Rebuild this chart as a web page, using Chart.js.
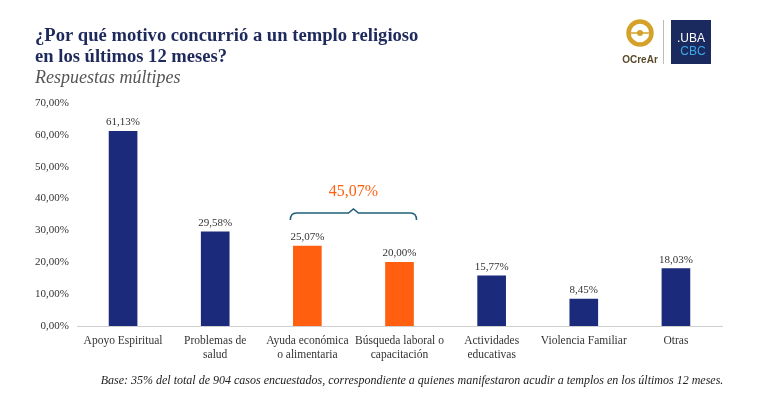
<!DOCTYPE html>
<html>
<head>
<meta charset="utf-8">
<script src="https://cdn.jsdelivr.net/npm/chart.js@4"></script>
<style>
  body { margin: 0; background: #fff; }
  #wrap { position: relative; width: 770px; height: 408px; }
</style>
</head>
<body>
<div id="wrap"><canvas id="chart"></canvas></div>
<script>
// data
const categories = [
  ["Apoyo Espiritual"],
  ["Problemas de", "salud"],
  ["Ayuda económica", "o alimentaria"],
  ["Búsqueda laboral o", "capacitación"],
  ["Actividades", "educativas"],
  ["Violencia Familiar"],
  ["Otras"]
];
const values = [61.13, 29.58, 25.07, 20.0, 15.77, 8.45, 18.03];
const highlighted = [false, false, true, true, false, false, false];
const groupLabel = "45,07%";
const yTicks = [0, 10, 20, 30, 40, 50, 60, 70];

const navy = "#1b2a7b";
const orange = "#ff5f0f";
const serif = "'Liberation Serif', 'DejaVu Serif', serif";

function fmt(v) {
  return v.toFixed(2).replace(".", ",") + "%";
}

// texts, bracket, logo
const extras = {
  id: "extras",
  afterDraw(chart) {
    const c = chart.ctx;
    const x = chart.scales.x, y = chart.scales.y;
    c.save();

    // title
    c.fillStyle = "#1f2a5c";
    c.font = "bold 18.6px " + serif;
    c.textBaseline = "alphabetic";
    c.textAlign = "left";
    c.fillText("¿Por qué motivo concurrió a un templo religioso", 35, 41);
    c.fillText("en los últimos 12 meses?", 35, 62);
    c.fillStyle = "#555";
    c.font = "italic 18px " + serif;
    c.fillText("Respuestas múltipes", 35, 83);

    // value labels
    c.fillStyle = "#333";
    c.font = "11px " + serif;
    c.textAlign = "center";
    values.forEach((v, i) => {
      c.fillText(fmt(v), x.getPixelForValue(i), y.getPixelForValue(v) - 6);
    });

    // bracket over highlighted bars
    const idx = highlighted.map((h, i) => h ? i : -1).filter(i => i >= 0);
    const x1 = x.getPixelForValue(idx[0]) - 17;
    const x2 = x.getPixelForValue(idx[idx.length - 1]) + 17;
    const by = 213;
    const mid = (x1 + x2) / 2;
    c.strokeStyle = "#1f5f7a";
    c.lineWidth = 1.5;
    c.beginPath();
    c.moveTo(x1, by + 7);
    c.quadraticCurveTo(x1, by, x1 + 6, by);
    c.lineTo(mid - 5, by);
    c.lineTo(mid, by - 4);
    c.lineTo(mid + 5, by);
    c.lineTo(x2 - 6, by);
    c.quadraticCurveTo(x2, by, x2, by + 7);
    c.stroke();
    c.fillStyle = orange;
    c.font = "16px " + serif;
    c.fillText(groupLabel, mid, 196);

    // footer
    c.fillStyle = "#222";
    c.font = "italic 12px " + serif;
    c.fillText("Base: 35% del total de 904 casos encuestados, correspondiente a quienes manifestaron acudir a templos en los últimos 12 meses.", 412, 384);

    // logo OCreAr
    c.strokeStyle = "#d4a22a";
    c.lineWidth = 4.5;
    c.beginPath();
    c.arc(640, 33, 11.5, 0, Math.PI * 2);
    c.stroke();
    c.lineWidth = 1.5;
    c.beginPath();
    c.moveTo(627, 33);
    c.lineTo(653, 33);
    c.stroke();
    c.fillStyle = "#d4a22a";
    c.beginPath();
    c.arc(640, 33, 3, 0, Math.PI * 2);
    c.fill();
    c.fillStyle = "#5a4a2a";
    c.font = "bold 10px 'Liberation Sans', sans-serif";
    c.fillText("OCreAr", 640, 63);
    c.strokeStyle = "#bbb";
    c.lineWidth = 1;
    c.beginPath();
    c.moveTo(663.5, 20);
    c.lineTo(663.5, 64);
    c.stroke();
    c.fillStyle = "#1a2a5e";
    c.fillRect(671, 20, 40, 44);
    c.fillStyle = "#fff";
    c.font = "12px 'Liberation Sans', sans-serif";
    c.fillText(".UBA", 691, 42);
    c.fillStyle = "#3da8e8";
    c.fillText("CBC", 693, 55);

    c.restore();
  }
};

new Chart(document.getElementById("chart"), {
  type: "bar",
  data: {
    labels: categories,
    datasets: [{
      data: values,
      backgroundColor: highlighted.map(h => h ? orange : navy),
      barThickness: 28
    }]
  },
  plugins: [extras],
  options: {
    responsive: true,
    maintainAspectRatio: false,
    animation: false,
    layout: { padding: { top: 103, right: 48, left: 0, bottom: 0 } },
    plugins: { legend: { display: false }, tooltip: { enabled: false } },
    scales: {
      y: {
        min: 0,
        max: 70,
        afterFit(scale) { scale.width = 77; },
        afterBuildTicks(scale) { scale.ticks = yTicks.map(v => ({ value: v })); },
        grid: { display: false, drawTicks: false },
        border: { display: false },
        ticks: {
          padding: 8,
          color: "#333",
          font: { family: serif, size: 11 },
          callback: v => fmt(v)
        }
      },
      x: {
        afterFit(scale) { scale.height = 82; },
        grid: { display: false, drawTicks: false },
        border: { display: true, color: "#d0d0d0" },
        ticks: {
          padding: 8,
          maxRotation: 0,
          autoSkip: false,
          color: "#333",
          font: { family: serif, size: 11.5, lineHeight: 1.2 }
        }
      }
    }
  }
});
</script>
</body>
</html>
